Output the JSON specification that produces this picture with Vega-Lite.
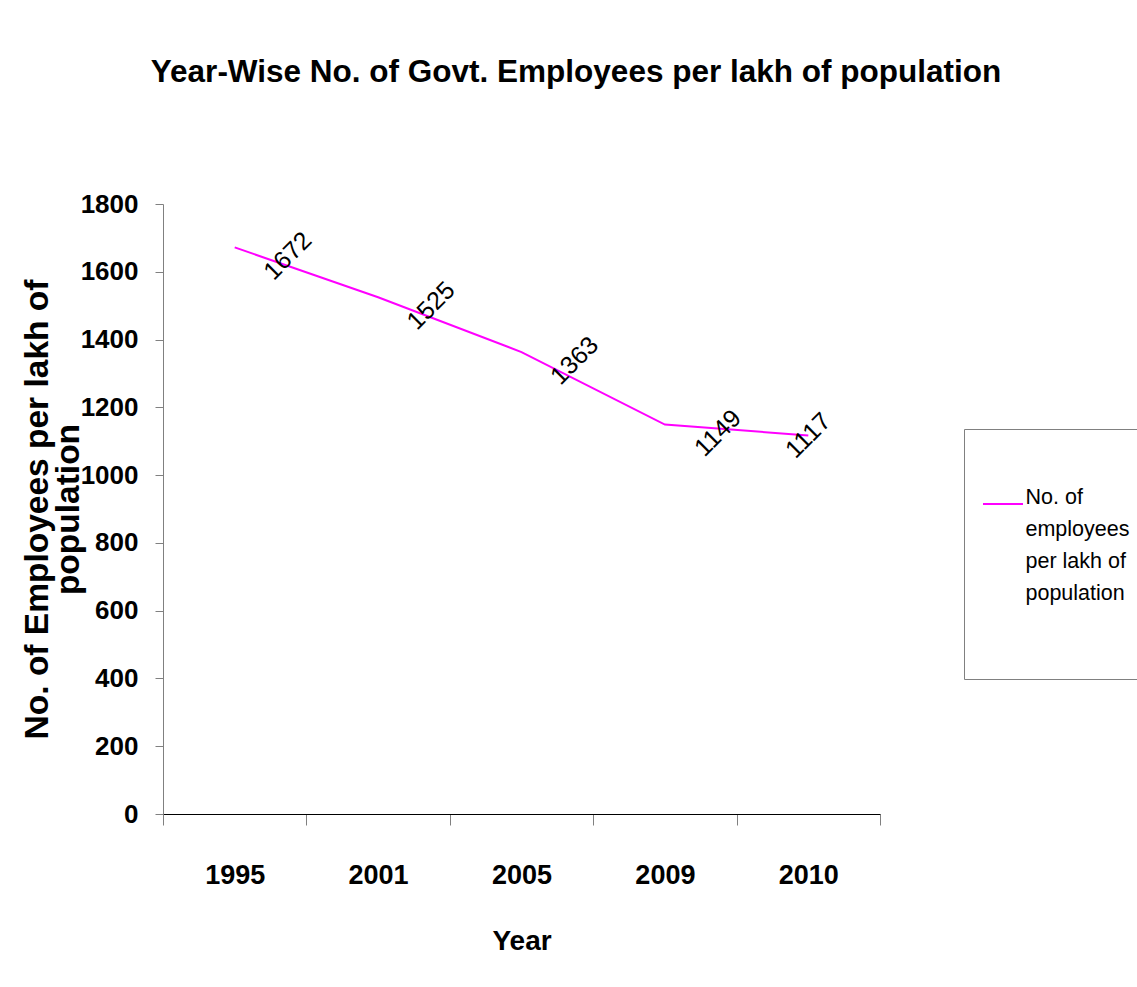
{
  "$schema": "https://vega.github.io/schema/vega-lite/v6.json",
  "width": 717,
  "height": 610,
  "autosize": {"type": "none"},
  "padding": {"left": 163, "top": 204, "right": 257, "bottom": 173},
  "background": "white",
  "title": {
    "text": "Year-Wise No. of Govt. Employees per lakh of population",
    "font": "Liberation Sans, Arial, sans-serif",
    "fontWeight": "bold",
    "fontSize": 31.5,
    "color": "black",
    "anchor": "middle",
    "frame": "group",
    "dx": 54.5,
    "baseline": "alphabetic",
    "offset": 78
  },
  "data": {
    "values": [
      {"year": "1995", "value": 1672, "series": "No. of employees per lakh of population"},
      {"year": "2001", "value": 1525, "series": "No. of employees per lakh of population"},
      {"year": "2005", "value": 1363, "series": "No. of employees per lakh of population"},
      {"year": "2009", "value": 1149, "series": "No. of employees per lakh of population"},
      {"year": "2010", "value": 1117, "series": "No. of employees per lakh of population"}
    ]
  },
  "layer": [
    {
      "mark": {"type": "line", "strokeWidth": 2},
      "encoding": {
        "x": {
          "field": "year",
          "type": "ordinal",
          "scale": {"type": "band", "paddingInner": 0, "paddingOuter": 0},
          "axis": {
            "title": "Year",
            "titleFont": "Liberation Sans, Arial, sans-serif",
            "titleFontWeight": "bold",
            "titleFontSize": 28,
            "titleColor": "black",
            "titleY": 135,
            "titleBaseline": "alphabetic",
            "labelAngle": 0,
            "labelFont": "Liberation Sans, Arial, sans-serif",
            "labelFontWeight": "bold",
            "labelFontSize": 27,
            "labelColor": "black",
            "labelBaseline": "alphabetic",
            "labelPadding": 58,
            "tickSize": 11,
            "tickColor": "#808080",
            "domainColor": "black",
            "tickBand": "extent",
            "grid": false
          }
        },
        "y": {
          "field": "value",
          "type": "quantitative",
          "scale": {"domain": [0, 1800]},
          "axis": {
            "title": ["No. of Employees per lakh of", "population"],
            "titleFont": "Liberation Sans, Arial, sans-serif",
            "titleFontWeight": "bold",
            "titleFontSize": 33.5,
            "titleLineHeight": 31,
            "titleColor": "black",
            "titleAngle": 270,
            "titleAlign": "center",
            "titleBaseline": "bottom",
            "titleX": -109,
            "titleY": 305,
            "values": [0, 200, 400, 600, 800, 1000, 1200, 1400, 1600, 1800],
            "format": "d",
            "labelFont": "Liberation Sans, Arial, sans-serif",
            "labelFontWeight": "bold",
            "labelFontSize": 26,
            "labelColor": "black",
            "labelPadding": 17,
            "labelFlush": false,
            "labelOverlap": false,
            "tickSize": 8,
            "tickColor": "#808080",
            "domainColor": "#808080",
            "grid": false
          }
        },
        "color": {
          "field": "series",
          "type": "nominal",
          "scale": {"range": ["#ff00ff"]},
          "legend": {
            "orient": "none",
            "legendX": 801,
            "legendY": 225,
            "title": " ",
            "titleFontSize": 10,
            "titlePadding": 33.5,
            "padding": 10.5,
            "strokeColor": "#808080",
            "symbolType": "stroke",
            "symbolSize": 1600,
            "symbolStrokeWidth": 2,
            "symbolOffset": 7.5,
            "labelFont": "Liberation Sans, Arial, sans-serif",
            "labelFontSize": 21.5,
            "labelColor": "black",
            "labelOffset": 1.5,
            "labelBaseline": "alphabetic",
            "labelLimit": 400,
            "labelExpr": "['No. of', 'employees', 'per lakh of', 'population', '', '']"
          }
        }
      }
    },
    {
      "transform": [{"filter": "datum.year != '2010'"}],
      "mark": {
        "type": "text",
        "angle": 315,
        "dx": 31.5,
        "dy": 43.5,
        "align": "center",
        "baseline": "middle",
        "font": "Liberation Sans, Arial, sans-serif",
        "fontSize": 25,
        "color": "black"
      },
      "encoding": {
        "x": {"field": "year", "type": "ordinal"},
        "y": {"field": "value", "type": "quantitative"},
        "text": {"field": "value", "type": "quantitative", "format": "d"}
      }
    },
    {
      "transform": [{"filter": "datum.year == '2010'"}],
      "mark": {
        "type": "text",
        "angle": 315,
        "align": "center",
        "baseline": "middle",
        "font": "Liberation Sans, Arial, sans-serif",
        "fontSize": 25,
        "color": "black"
      },
      "encoding": {
        "x": {"field": "year", "type": "ordinal"},
        "y": {"field": "value", "type": "quantitative"},
        "text": {"field": "value", "type": "quantitative", "format": "d"}
      }
    }
  ],
  "config": {
    "view": {"stroke": null},
    "style": {"guide-label": {"lineHeight": 32}}
  }
}
